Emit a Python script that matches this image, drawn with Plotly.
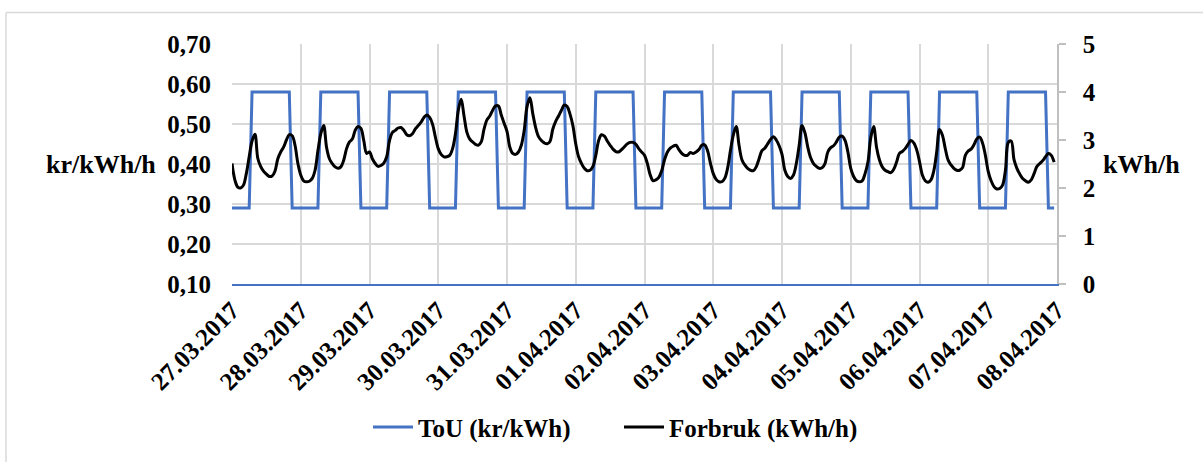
import plotly.graph_objects as go
import pandas as pd

# ---------------- data ----------------
DAY_LABELS = ["27.03.2017", "28.03.2017", "29.03.2017", "30.03.2017", "31.03.2017",
              "01.04.2017", "02.04.2017", "03.04.2017", "04.04.2017", "05.04.2017",
              "06.04.2017", "07.04.2017", "08.04.2017"]

# ToU price (kr/kWh), hourly, one row per day (hours 0..23)
TOU = [
    [0.29, 0.29, 0.29, 0.29, 0.29, 0.29, 0.29, 0.58, 0.58, 0.58, 0.58, 0.58, 0.58, 0.58, 0.58, 0.58, 0.58, 0.58, 0.58, 0.58, 0.58, 0.29, 0.29, 0.29],
    [0.29, 0.29, 0.29, 0.29, 0.29, 0.29, 0.29, 0.58, 0.58, 0.58, 0.58, 0.58, 0.58, 0.58, 0.58, 0.58, 0.58, 0.58, 0.58, 0.58, 0.58, 0.29, 0.29, 0.29],
    [0.29, 0.29, 0.29, 0.29, 0.29, 0.29, 0.29, 0.58, 0.58, 0.58, 0.58, 0.58, 0.58, 0.58, 0.58, 0.58, 0.58, 0.58, 0.58, 0.58, 0.58, 0.29, 0.29, 0.29],
    [0.29, 0.29, 0.29, 0.29, 0.29, 0.29, 0.29, 0.58, 0.58, 0.58, 0.58, 0.58, 0.58, 0.58, 0.58, 0.58, 0.58, 0.58, 0.58, 0.58, 0.58, 0.29, 0.29, 0.29],
    [0.29, 0.29, 0.29, 0.29, 0.29, 0.29, 0.29, 0.58, 0.58, 0.58, 0.58, 0.58, 0.58, 0.58, 0.58, 0.58, 0.58, 0.58, 0.58, 0.58, 0.58, 0.29, 0.29, 0.29],
    [0.29, 0.29, 0.29, 0.29, 0.29, 0.29, 0.29, 0.58, 0.58, 0.58, 0.58, 0.58, 0.58, 0.58, 0.58, 0.58, 0.58, 0.58, 0.58, 0.58, 0.58, 0.29, 0.29, 0.29],
    [0.29, 0.29, 0.29, 0.29, 0.29, 0.29, 0.29, 0.58, 0.58, 0.58, 0.58, 0.58, 0.58, 0.58, 0.58, 0.58, 0.58, 0.58, 0.58, 0.58, 0.58, 0.29, 0.29, 0.29],
    [0.29, 0.29, 0.29, 0.29, 0.29, 0.29, 0.29, 0.58, 0.58, 0.58, 0.58, 0.58, 0.58, 0.58, 0.58, 0.58, 0.58, 0.58, 0.58, 0.58, 0.58, 0.29, 0.29, 0.29],
    [0.29, 0.29, 0.29, 0.29, 0.29, 0.29, 0.29, 0.58, 0.58, 0.58, 0.58, 0.58, 0.58, 0.58, 0.58, 0.58, 0.58, 0.58, 0.58, 0.58, 0.58, 0.29, 0.29, 0.29],
    [0.29, 0.29, 0.29, 0.29, 0.29, 0.29, 0.29, 0.58, 0.58, 0.58, 0.58, 0.58, 0.58, 0.58, 0.58, 0.58, 0.58, 0.58, 0.58, 0.58, 0.58, 0.29, 0.29, 0.29],
    [0.29, 0.29, 0.29, 0.29, 0.29, 0.29, 0.29, 0.58, 0.58, 0.58, 0.58, 0.58, 0.58, 0.58, 0.58, 0.58, 0.58, 0.58, 0.58, 0.58, 0.58, 0.29, 0.29, 0.29],
    [0.29, 0.29, 0.29, 0.29, 0.29, 0.29, 0.29, 0.58, 0.58, 0.58, 0.58, 0.58, 0.58, 0.58, 0.58, 0.58, 0.58, 0.58, 0.58, 0.58, 0.58, 0.29, 0.29, 0.29],
]

# Consumption (kWh/h), hourly, one row per day (hours 0..23)
FORBRUK = [
    [2.51, 2.17, 2.02, 2.00, 2.06, 2.30, 2.65, 2.98, 3.12, 2.62, 2.45, 2.35, 2.29, 2.24, 2.25, 2.35, 2.61, 2.75, 2.85, 3.00, 3.11, 3.09, 2.89, 2.51],
    [2.27, 2.15, 2.13, 2.14, 2.20, 2.37, 2.78, 3.13, 3.30, 2.85, 2.61, 2.51, 2.44, 2.41, 2.44, 2.58, 2.82, 2.96, 3.02, 3.20, 3.28, 3.24, 2.99, 2.72],
    [2.75, 2.61, 2.51, 2.45, 2.47, 2.52, 2.65, 2.99, 3.16, 3.20, 3.25, 3.26, 3.20, 3.11, 3.09, 3.13, 3.23, 3.30, 3.37, 3.47, 3.52, 3.47, 3.33, 3.06],
    [2.82, 2.70, 2.65, 2.65, 2.68, 2.82, 3.13, 3.62, 3.85, 3.50, 3.16, 3.02, 2.96, 2.91, 2.89, 2.96, 3.23, 3.42, 3.50, 3.62, 3.71, 3.71, 3.52, 3.35],
    [3.18, 2.85, 2.72, 2.70, 2.75, 2.89, 3.20, 3.70, 3.88, 3.55, 3.26, 3.07, 2.99, 2.94, 2.92, 2.97, 3.23, 3.39, 3.50, 3.62, 3.73, 3.70, 3.54, 3.30],
    [2.92, 2.65, 2.51, 2.41, 2.36, 2.37, 2.45, 2.68, 2.99, 3.11, 3.08, 2.98, 2.89, 2.81, 2.76, 2.75, 2.80, 2.86, 2.92, 2.95, 2.95, 2.91, 2.82, 2.75],
    [2.68, 2.51, 2.27, 2.15, 2.17, 2.22, 2.36, 2.59, 2.75, 2.83, 2.87, 2.89, 2.80, 2.72, 2.68, 2.68, 2.74, 2.72, 2.75, 2.80, 2.89, 2.90, 2.78, 2.52],
    [2.30, 2.18, 2.13, 2.13, 2.20, 2.41, 2.78, 3.10, 3.28, 2.89, 2.59, 2.48, 2.41, 2.37, 2.36, 2.44, 2.61, 2.78, 2.83, 2.92, 3.01, 3.07, 3.00, 2.88],
    [2.70, 2.37, 2.24, 2.20, 2.27, 2.51, 2.89, 3.30, 3.15, 2.85, 2.63, 2.51, 2.45, 2.41, 2.42, 2.51, 2.75, 2.84, 2.88, 2.96, 3.06, 3.08, 2.99, 2.75],
    [2.41, 2.24, 2.15, 2.13, 2.15, 2.30, 2.54, 3.05, 3.28, 2.85, 2.59, 2.44, 2.37, 2.34, 2.32, 2.39, 2.54, 2.72, 2.76, 2.82, 2.91, 2.99, 2.94, 2.80],
    [2.55, 2.27, 2.15, 2.12, 2.17, 2.36, 2.75, 3.22, 3.10, 2.82, 2.58, 2.48, 2.41, 2.37, 2.37, 2.42, 2.68, 2.77, 2.81, 2.90, 3.02, 3.06, 2.94, 2.68],
    [2.34, 2.15, 2.03, 1.98, 1.99, 2.06, 2.37, 2.95, 2.98, 2.59, 2.41, 2.29, 2.20, 2.15, 2.12, 2.17, 2.30, 2.45, 2.51, 2.57, 2.65, 2.72, 2.68, 2.54],
]

LEFT_TICKS = [0.10, 0.20, 0.30, 0.40, 0.50, 0.60, 0.70]
RIGHT_TICKS = [0, 1, 2, 3, 4, 5]

# ---------------- build ----------------
start = pd.Timestamp("2017-03-27 00:00")
n_hours = sum(len(r) for r in FORBRUK)
times = pd.date_range(start, periods=n_hours, freq="h")
tou_flat = [v for row in TOU for v in row]
forbruk_flat = [v for row in FORBRUK for v in row]
day_ticks = pd.date_range(start, periods=len(DAY_LABELS), freq="D")

FONT = "Liberation Serif"
BLUE = "#4472C4"
GRID = "#D9D9D9"

fig = go.Figure()
fig.add_trace(go.Scatter(
    x=times, y=tou_flat, name="ToU (kr/kWh)", mode="lines",
    line=dict(color=BLUE, width=3), yaxis="y"))
fig.add_trace(go.Scatter(
    x=times, y=forbruk_flat, name="Forbruk (kWh/h)", mode="lines",
    line=dict(color="black", width=3, shape="spline", smoothing=1.0), yaxis="y2"))

L, R, T, B = 232, 146, 44, 175
W, H = 1203, 462
pw, ph = W - L - R, H - T - B

def px2fx(px):
    return (px - L) / pw

def py2fy(py):
    return (H - B - py) / ph

fig.update_layout(
    width=W, height=H,
    margin=dict(l=L, r=R, t=T, b=B, pad=0),
    paper_bgcolor="white", plot_bgcolor="white",
    separators=",.",
    font=dict(family=FONT, size=24, color="black", weight="bold"),
    showlegend=True,
    legend=dict(orientation="h", x=px2fx(368), xanchor="left",
                y=py2fy(432), yanchor="middle",
                font=dict(family=FONT, size=25, color="black", weight="bold"),
                itemwidth=40, entrywidth=196, tracegroupgap=0,
                bgcolor="rgba(0,0,0,0)"),
    xaxis=dict(
        type="date",
        range=[day_ticks[0], day_ticks[-1]],
        tickmode="array", tickvals=list(day_ticks), ticktext=DAY_LABELS,
        tickangle=-45,
        tickfont=dict(family=FONT, size=25, color="black", weight="bold"),
        showgrid=True, gridcolor=GRID, gridwidth=1.5,
        showline=True, linecolor=BLUE, linewidth=1.5,
        ticks="", zeroline=False, ticklabelstandoff=0,
    ),
    yaxis=dict(
        range=[0.10, 0.70], tickmode="array", tickvals=LEFT_TICKS,
        tickformat=".2f",
        tickfont=dict(family=FONT, size=25, color="black", weight="bold"),
        showgrid=True, gridcolor=GRID, gridwidth=1.5,
        showline=False, ticks="", zeroline=False,
        ticklabelstandoff=20,
    ),
    yaxis2=dict(
        range=[0, 5], tickmode="array", tickvals=RIGHT_TICKS,
        overlaying="y", side="right",
        tickfont=dict(family=FONT, size=25, color="black", weight="bold"),
        showgrid=False, zeroline=False,
        showline=True, linecolor="#BFBFBF", linewidth=1.5,
        ticks="outside", ticklen=7, tickcolor="#BFBFBF", tickwidth=1.5,
        ticklabelstandoff=12,
    ),
    annotations=[
        dict(text="kr/kWh/h", x=px2fx(101), y=py2fy(166), xref="paper", yref="paper",
             showarrow=False, xanchor="center", yanchor="middle",
             font=dict(family=FONT, size=26, color="black", weight="bold")),
        dict(text="kWh/h", x=px2fx(1141), y=py2fy(166), xref="paper", yref="paper",
             showarrow=False, xanchor="center", yanchor="middle",
             font=dict(family=FONT, size=26, color="black", weight="bold")),
    ],
    shapes=[
        dict(type="line", xref="paper", yref="paper",
             x0=px2fx(6), x1=px2fx(6), y0=py2fy(12), y1=py2fy(470),
             line=dict(color="#D9D9D9", width=1.5)),
        dict(type="line", xref="paper", yref="paper",
             x0=px2fx(6), x1=px2fx(1210), y0=py2fy(12), y1=py2fy(12),
             line=dict(color="#D9D9D9", width=1.5)),
    ],
)

fig.write_html("out.html")
